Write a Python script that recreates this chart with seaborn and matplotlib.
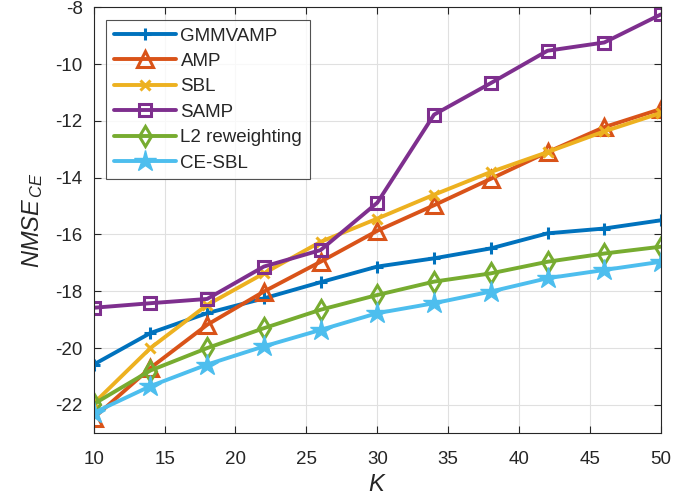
import matplotlib
matplotlib.use("Agg")
import matplotlib.pyplot as plt
import seaborn as sns
import pandas as pd

K = [10, 14, 18, 22, 26, 30, 34, 38, 42, 46, 50]
gmmvamp = [-20.58, -19.47, -18.77, -18.25, -17.68, -17.13, -16.84, -16.49, -15.96, -15.79, -15.50]
amp = [-22.46, -20.70, -19.18, -18.01, -16.96, -15.87, -14.97, -14.04, -13.10, -12.22, -11.58]
sbl = [-21.95, -20.00, -18.48, -17.37, -16.26, -15.44, -14.60, -13.80, -13.10, -12.37, -11.72]
samp = [-18.58, -18.42, -18.27, -17.13, -16.55, -14.88, -11.78, -10.67, -9.53, -9.24, -8.25]
l2rw = [-21.97, -20.79, -20.00, -19.30, -18.65, -18.13, -17.66, -17.37, -16.96, -16.67, -16.43]
cesbl = [-22.28, -21.34, -20.58, -19.94, -19.36, -18.77, -18.42, -18.01, -17.54, -17.25, -16.96]

names = ["GMMVAMP", "AMP", "SBL", "SAMP", "L2 reweighting", "CE-SBL"]
series = [gmmvamp, amp, sbl, samp, l2rw, cesbl]
colors = ["#0072BD", "#D95319", "#EDB120", "#7E2F8E", "#77AC30", "#4DBEEE"]
markers = ["+", "^", "x", "s", "d", "*"]
msizes = [9, 12, 7, 8, 10, 16]

sns.set_theme(style="whitegrid")
plt.rcParams['font.family'] = ['Liberation Sans', 'DejaVu Sans']
plt.rcParams['mathtext.fontset'] = 'custom'
plt.rcParams['mathtext.it'] = 'Liberation Sans:italic'
plt.rcParams['mathtext.rm'] = 'Liberation Sans'
plt.rcParams['axes.unicode_minus'] = False

fig = plt.figure(figsize=(6.99, 4.99), dpi=100)
ax = fig.add_axes([0.134, 0.1317, 0.8116, 0.8537])

for name, vals, c, m, ms in zip(names, series, colors, markers, msizes):
    df = pd.DataFrame({"K": K, "v": vals})
    kw = dict(marker=m, markersize=ms, markeredgewidth=2.2, markeredgecolor=c)
    if m in ("^", "s", "d"):
        kw["markerfacecolor"] = "none"
    elif m == "*":
        kw["markerfacecolor"] = c
        kw["markeredgewidth"] = 1
    sns.lineplot(data=df, x="K", y="v", ax=ax, color=c, linewidth=2.8,
                 label=name, **kw)

ax.set_xlim(10, 50)
ax.set_ylim(-23, -8)
ax.set_xticks(range(10, 51, 5))
ax.set_yticks(range(-22, -7, 2))
ax.set_facecolor("white")
ax.grid(True, color="#e0e0e0", linewidth=0.8)
for s in ax.spines.values():
    s.set_visible(True)
    s.set_color("#262626")
    s.set_linewidth(0.8)
ax.tick_params(direction="in", length=5, width=0.8, colors="#262626",
               labelsize=13.5, top=True, right=True, bottom=True, left=True)
ax.tick_params(axis="x", pad=13)
ax.tick_params(axis="y", pad=8)
for lab in ax.get_xticklabels() + ax.get_yticklabels():
    lab.set_color("#262626")
ax.set_xlabel("$K$", fontsize=17, color="#262626", labelpad=4)
ax.set_ylabel("$NMSE_{\\,CE}$", fontsize=17, color="#262626", labelpad=7)

leg = ax.legend(loc="upper left", bbox_to_anchor=(0.0, 1.0), fontsize=13.5,
                frameon=True, fancybox=False, edgecolor="#262626",
                borderaxespad=0.68, handlelength=3.3, labelspacing=0.44,
                handletextpad=0.25, borderpad=0.4)
leg.get_frame().set_linewidth(0.8)

fig.savefig("out.png", dpi=100, facecolor="white")
